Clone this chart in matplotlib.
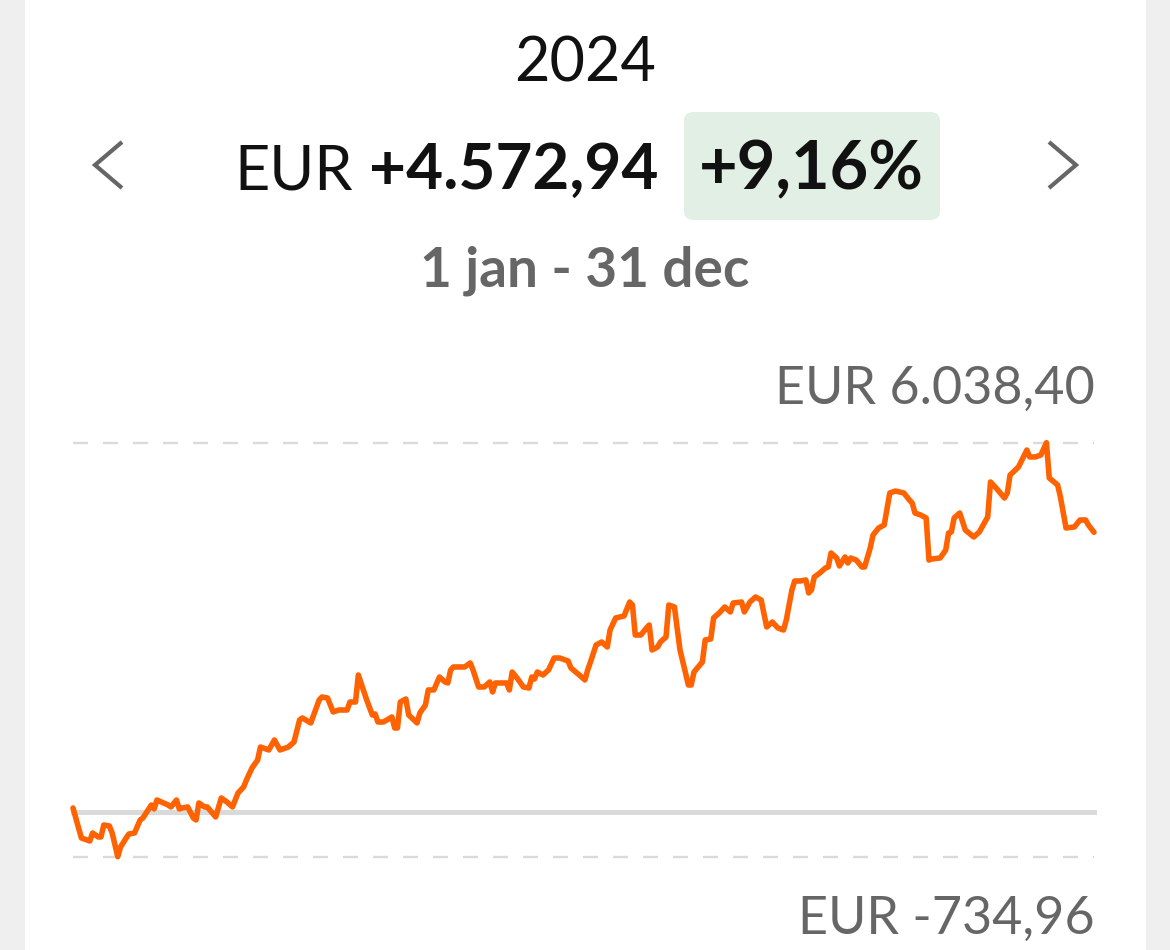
import numpy as np
import matplotlib
matplotlib.use("Agg")
import matplotlib.pyplot as plt
from matplotlib.patches import FancyBboxPatch, Rectangle
from matplotlib.lines import Line2D

plt.rcParams['font.family'] = ['Lato', 'DejaVu Sans']
plt.rcParams['lines.scale_dashes'] = False

# ---- data ----
year_label = "2024"
currency = "EUR"
total_gain = "+4.572,94"
total_pct = "+9,16%"
period_label = "1 jan - 31 dec"
max_label = "EUR 6.038,40"
min_label = "EUR -734,96"
y_max = 6038.40
y_min = -734.96

day_of_year = [
    0, 3, 6, 7, 9, 10, 11, 13, 14, 16,
    17, 19, 20, 22, 24, 25, 28, 29, 30, 34,
    35, 37, 38, 39, 41, 43, 44, 45, 47, 48,
    51, 53, 55, 57, 59, 61, 62, 64, 66, 67,
    70, 72, 74, 77, 79, 81, 82, 85, 88, 89,
    91, 93, 95, 98, 99, 101, 102, 105, 107, 108,
    109, 111, 114, 115, 116, 117, 119, 120, 123, 124,
    126, 127, 129, 131, 133, 134, 135, 136, 140, 142,
    143, 145, 147, 149, 150, 151, 155, 156, 157, 159,
    161, 163, 164, 165, 166, 168, 170, 172, 174, 177,
    178, 181, 183, 184, 185, 187, 189, 191, 192, 194,
    197, 199, 200, 201, 203, 205, 206, 207, 209, 210,
    212, 213, 215, 217, 220, 221, 222, 225, 226, 228,
    229, 231, 233, 235, 236, 239, 240, 242, 244, 246,
    248, 250, 252, 254, 255, 257, 258, 260, 262, 263,
    264, 265, 267, 269, 270, 271, 273, 274, 276, 277,
    278, 280, 282, 283, 285, 286, 288, 290, 292, 294,
    297, 299, 300, 301, 303, 305, 306, 307, 310, 312,
    313, 314, 315, 317, 319, 322, 324, 327, 328, 330,
    333, 334, 335, 338, 341, 342, 344, 346, 348, 349,
    352, 353, 355, 358, 360, 362, 363, 365,
]

gain_eur = [
    62, -429, -478, -347, -412, -412, -216, -232, -347, -734.96,
    -576, -429, -363, -347, -134, -101, 111, 46, 193, 111,
    79, 193, 46, 62, 79, -101, -134, 144, 79, 79,
    -85, 226, 160, 79, 308, 406, 520, 717, 847, 1060,
    1011, 1175, 1011, 1060, 1142, 1502, 1535, 1453, 1829, 1878,
    1862, 1633, 1665, 1665, 1796, 1796, 2238, 1829, 1584, 1600,
    1469, 1469, 1551, 1371, 1371, 1796, 1845, 1584, 1453, 1616,
    1747, 1993, 1993, 2205, 2124, 2107, 2320, 2369, 2369, 2434,
    2320, 2042, 2042, 2124, 1960, 2107, 2107, 1993, 2287, 2173,
    2042, 2025, 2205, 2173, 2287, 2238, 2320, 2516, 2516, 2467,
    2353, 2238, 2156, 2320, 2451, 2729, 2778, 2696, 2974, 3171,
    3203, 3432, 3383, 2892, 2892, 3007, 3056, 2647, 2696, 2778,
    2860, 3383, 3351, 2647, 2074, 2074, 2287, 2451, 2811, 2827,
    3171, 3252, 3351, 3269, 3416, 3432, 3269, 3432, 3514, 3465,
    3023, 3105, 3007, 2974, 3138, 3629, 3776, 3776, 3792, 3580,
    3629, 3841, 3907, 3989, 4005, 4234, 4152, 4021, 4169, 4070,
    4152, 4119, 4005, 4005, 4316, 4528, 4643, 4692, 5216, 5248,
    5216, 5101, 5052, 4888, 4856, 4807, 4119, 4136, 4152, 4283,
    4561, 4578, 4807, 4888, 4610, 4496, 4578, 4823, 5396, 5297,
    5134, 5216, 5510, 5641, 5919, 5805, 5805, 5837, 6038.40, 5461,
    5347, 5150, 4643, 4660, 4774, 4774, 4692, 4572.94,
]

dates = np.datetime64('2024-01-01') + np.array(day_of_year).astype('timedelta64[D]')

# ---- figure ----
W, H = 1170, 950
fig = plt.figure(figsize=(W / 100, H / 100), dpi=100)
fig.patch.set_facecolor('white')

def fx(px):
    return px / W

def fy(py):
    return 1 - py / H

# grey side strips
fig.patches.append(Rectangle((0, 0), fx(25), 1, transform=fig.transFigure,
                             facecolor='#efefef', edgecolor='none', zorder=0))
fig.patches.append(Rectangle((fx(1146), 0), 1 - fx(1146), 1, transform=fig.transFigure,
                             facecolor='#efefef', edgecolor='none', zorder=0))

ORANGE = '#FF6200'
GREY_TXT = '#666666'
GRID = '#dadada'

# header
fig.text(fx(585), fy(81), year_label, ha='center', va='baseline',
         fontsize=44, color='#111111')
gain_txt = fig.text(fx(658), fy(189), total_gain, ha='right', va='baseline',
                    fontsize=46, fontweight='bold', color='#111111')
renderer = fig.canvas.get_renderer()
bb = gain_txt.get_window_extent(renderer=renderer)
fig.text((bb.x0 - 16) / W, fy(189), currency, ha='right', va='baseline',
         fontsize=44, color='#111111')

fig.patches.append(FancyBboxPatch((fx(684), fy(220)), fx(940) - fx(684), fy(112) - fy(220),
                                  boxstyle='round,pad=0,rounding_size=0.009',
                                  transform=fig.transFigure, facecolor='#e1efe5',
                                  edgecolor='none', zorder=0))
fig.text(fx(811), fy(189), total_pct, ha='center', va='baseline',
         fontsize=48, fontweight='bold', color='#111111')

fig.text(fx(585), fy(287), period_label, ha='center', va='baseline',
         fontsize=39.5, fontweight='bold', color=GREY_TXT)

# chevrons
fig.lines.append(Line2D([fx(122), fx(95), fx(122)], [fy(142), fy(165), fy(188)],
                        transform=fig.transFigure, color=GREY_TXT, lw=3,
                        solid_joinstyle='miter', solid_capstyle='butt'))
fig.lines.append(Line2D([fx(1049), fx(1076), fx(1049)], [fy(142), fy(165), fy(188)],
                        transform=fig.transFigure, color=GREY_TXT, lw=3,
                        solid_joinstyle='miter', solid_capstyle='butt'))

# chart area
top_px, bot_px = 442.7, 856.7
ax = fig.add_axes([fx(73), fy(bot_px), fx(1094) - fx(73), (bot_px - top_px) / H])
ax.set_xlim(np.datetime64('2024-01-01'), np.datetime64('2024-12-31'))
ax.set_ylim(y_min, y_max)
ax.axis('off')

ax.axhline(y_max, color=GRID, lw=1.7, dashes=(10.8, 10.8), clip_on=False, zorder=1)
ax.axhline(y_min, color=GRID, lw=1.7, dashes=(10.8, 10.8), clip_on=False, zorder=1)
ax.axhline(0, color=GRID, lw=3.6, clip_on=False, zorder=1)

ax.plot(dates, gain_eur, color=ORANGE, lw=4.0, solid_joinstyle='round',
        solid_capstyle='round', clip_on=False, zorder=3)

fig.text(fx(1095), fy(404), max_label, ha='right', va='baseline',
         fontsize=37.5, color=GREY_TXT)
fig.text(fx(1095), fy(934), min_label, ha='right', va='baseline',
         fontsize=37.5, color=GREY_TXT)

fig.savefig('out.png', dpi=100)
